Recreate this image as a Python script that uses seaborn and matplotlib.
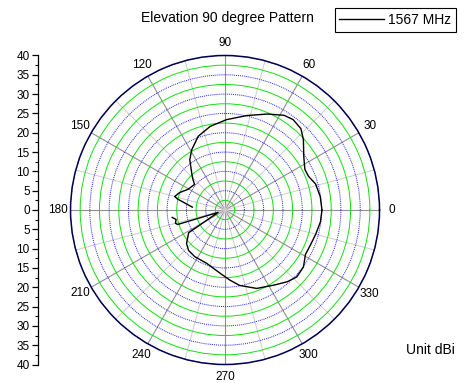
import numpy as np
import pandas as pd
import matplotlib
matplotlib.use("Agg")
import matplotlib.pyplot as plt
import seaborn as sns
from matplotlib.ticker import MultipleLocator, FixedLocator, FuncFormatter, NullFormatter

plt.rcParams['font.family'] = ['Liberation Sans', 'DejaVu Sans']

# ---- data ----
angle_deg = [0, 8, 16, 22, 27, 34, 42, 47, 53, 58, 66, 77, 89, 100, 110, 119, 125,
             132, 136, 140, 151, 159, 165, 167, 175, 181, 188, 191, 195, 197, 199,
             212, 221, 228, 237, 251, 266, 274, 281, 292, 303, 311, 317, 324, 331,
             338, 345, 353, 360]
gain_dbi = [25.1, 24.9, 24.4, 23.3, 23.2, 24.6, 27.3, 28.8, 29.3, 28.9, 27.2, 25.1,
            23.4, 22.0, 20.3, 17.8, 15.9, 12.9, 11.6, 10.3, 11.0, 12.6, 13.5, 12.6,
            8.5, np.nan, 13.8, 12.9, 13.3, 12.8, 1.9, 11.1, 13.2, 14.1, 14.4, 14.6,
            16.5, 18.2, 19.9, 21.9, 23.2, 24.6, 25.4, 25.1, 23.8, 23.9, 24.3, 24.9, 25.1]
series_label = "1567 MHz"
theta_labels_deg = list(range(0, 360, 30))
r_max = 40

df = pd.DataFrame({"deg": angle_deg, "gain": gain_dbi})
df["seg"] = df["gain"].isna().cumsum()
df = df.dropna()
df["theta"] = np.deg2rad(df["deg"])

fig = plt.figure(figsize=(4.67, 3.83), dpi=100)
ax = fig.add_axes([0.151, 0.0483, 0.6617, 0.8068], projection='polar')

sns.lineplot(data=df, x="theta", y="gain", units="seg", estimator=None, sort=False,
             color="black", linewidth=1.0, ax=ax, legend=False)
ax.set_xlabel("")
ax.set_ylabel("")

ax.set_ylim(0, r_max)
ax.yaxis.set_major_locator(MultipleLocator(5))
ax.yaxis.set_minor_locator(MultipleLocator(2.5))
ax.yaxis.set_major_formatter(NullFormatter())
ax.yaxis.set_minor_formatter(NullFormatter())
ax.xaxis.set_major_locator(FixedLocator(np.deg2rad(theta_labels_deg)))
ax.xaxis.set_minor_locator(FixedLocator(np.deg2rad(np.array(theta_labels_deg) + 15)))
ax.xaxis.set_major_formatter(FuncFormatter(lambda x, p: f"{int(round(np.degrees(x))) % 360}"))

ax.grid(False)
ax.yaxis.grid(True, which='major', color='#2020ff', linestyle=(0, (1, 1)), linewidth=0.7)
ax.yaxis.grid(True, which='minor', color='#10e010', linestyle='-', linewidth=0.7)
ax.xaxis.grid(True, which='major', color='#909090', linestyle='-', linewidth=0.8)
ax.xaxis.grid(True, which='minor', color='#cccccc', linestyle='-', linewidth=0.7)
ax.set_axisbelow(True)

ax.tick_params(axis='x', which='major', direction='in', length=7, width=1.0,
               color='#222222', labelsize=8.5, pad=2)
ax.tick_params(axis='x', which='minor', direction='in', length=4, width=0.8, color='#444444')
ax.tick_params(axis='y', which='both', length=0)
ax.spines['polar'].set_color('#000050')
ax.spines['polar'].set_linewidth(1.1)

# left radial scale
lax = fig.add_axes([38 / 467, 0.0483, 0.0001, 0.8068])
lax.set_ylim(-r_max, r_max)
lax.yaxis.set_major_locator(MultipleLocator(5))
lax.yaxis.set_minor_locator(MultipleLocator(2.5))
lax.yaxis.set_major_formatter(FuncFormatter(lambda v, p: f"{abs(int(round(v)))}"))
lax.set_xticks([])
for s in ['top', 'right', 'bottom']:
    lax.spines[s].set_visible(False)
lax.spines['left'].set_linewidth(0.9)
lax.tick_params(axis='y', which='major', direction='out', length=4, width=0.9, labelsize=8.5, pad=2)
lax.tick_params(axis='y', which='minor', direction='out', length=2.5, width=0.8)
lax.patch.set_visible(False)

handle = ax.lines[0]
ax.legend([handle], [series_label], loc='upper right',
          bbox_to_anchor=(456 / 467, 1 - 8 / 383), bbox_transform=fig.transFigure,
          fancybox=False, framealpha=1, edgecolor='black', fontsize=10,
          handlelength=3.2, borderpad=0.35, handletextpad=0.3, borderaxespad=0)
ax.get_legend().get_frame().set_linewidth(0.8)

fig.text(227 / 467, 1 - 18 / 383, "Elevation 90 degree Pattern", ha='center', va='center', fontsize=10)
fig.text(430 / 467, 1 - 350 / 383, "Unit dBi", ha='center', va='center', fontsize=10)

fig.savefig("out.png", dpi=100)
